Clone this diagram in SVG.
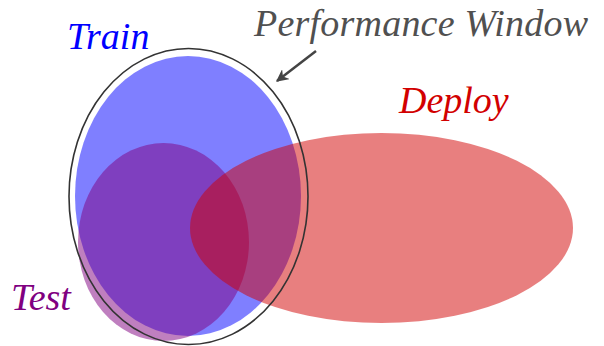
<svg xmlns="http://www.w3.org/2000/svg" width="604" height="346" viewBox="0 0 604 346">
<style>
.lbl{font-family:"Liberation Serif","Times New Roman",serif;font-style:italic;font-size:38px}
</style>
<defs>
<marker id="ah" viewBox="0 0 10 10" refX="9" refY="5" markerWidth="5" markerHeight="5" orient="auto" markerUnits="strokeWidth">
<path d="M0,0 L10,5 L0,10 L3,5 Z" fill="#444444"/>
</marker>
</defs>
<rect width="604" height="346" fill="#ffffff"/>
<g id="train">
<ellipse cx="188" cy="196" rx="113" ry="140" fill="#0000ff" fill-opacity="0.5"/>
<text class="lbl" x="67" y="49" fill="#0000ff">Train</text>
</g>
<g id="test">
<ellipse cx="163.5" cy="242" rx="85.5" ry="99" fill="#800080" fill-opacity="0.5"/>
<text class="lbl" x="11" y="310" fill="#800080">Test</text>
</g>
<g id="deploy">
<ellipse cx="381.5" cy="228" rx="191.5" ry="95" fill="#d20000" fill-opacity="0.5"/>
<text class="lbl" x="399" y="113" fill="#d20000">Deploy</text>
</g>
<g id="window">
<ellipse cx="188.5" cy="196.5" rx="119.5" ry="148" fill="none" stroke="#333333" stroke-width="1.6"/>
<text class="lbl" x="254" y="36" textLength="334" lengthAdjust="spacing" fill="#505050">Performance Window</text>
</g>
<g id="connectors">
<line x1="316" y1="51" x2="277" y2="81" stroke="#444444" stroke-width="2.5" marker-end="url(#ah)"/>
</g>
</svg>
